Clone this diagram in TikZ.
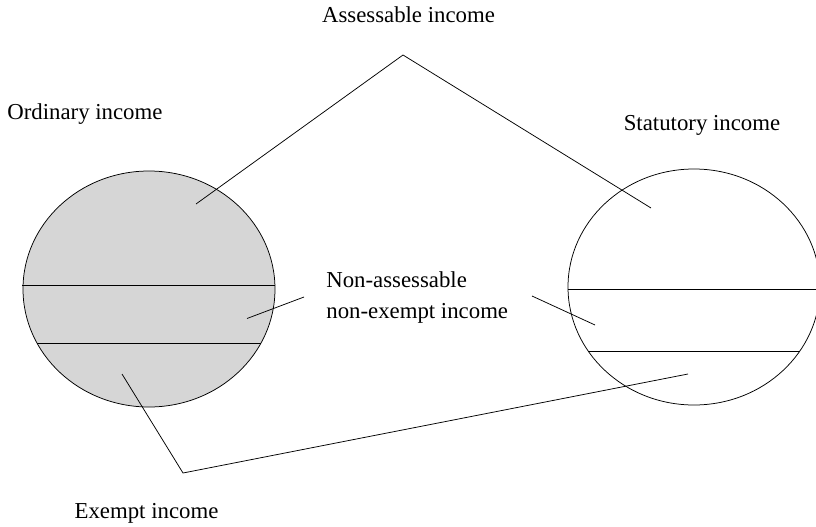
\documentclass[tikz,border=0pt]{standalone}
\usepackage{fontspec}
\setmainfont{Liberation Serif}
\definecolor{ringgray}{RGB}{214,214,214}
\begin{document}
\begin{tikzpicture}[x=1pt,y=-1pt,line width=0.75pt,
  lbl/.style={font=\fontsize{22.8}{27}\selectfont,inner sep=0pt},
  conn/.style={draw=black,line width=0.75pt}]
\useasboundingbox (0,0) rectangle (816,527);
% left circle (ordinary income)
\fill[ringgray] (149,289) ellipse [x radius=126, y radius=118];
\draw (149,289) ellipse [x radius=126, y radius=118];
\coordinate (l1a) at (22,285); \coordinate (l1b) at (275,285);
\coordinate (l2a) at (37,343); \coordinate (l2b) at (261,343);
\draw (l1a) -- (l1b);
\draw (l2a) -- (l2b);
% right circle (statutory income)
\draw (694,287) ellipse [x radius=126, y radius=118];
\coordinate (r1a) at (568,289); \coordinate (r1b) at (816,289);
\coordinate (r2a) at (588,351); \coordinate (r2b) at (800,351);
\draw (r1a) -- (r1b);
\draw (r2a) -- (r2b);
% labels
\node[lbl,anchor=base] (ass) at (408.5,23) {Assessable income};
\node[lbl,anchor=base west] (ord) at (7,119) {Ordinary income};
\node[lbl,anchor=base] (stat) at (702,130) {Statutory income};
\node[lbl,anchor=base west] (nonass1) at (326,287) {Non-assessable};
\node[lbl,anchor=base west] (nonass2) at (326,318) {non-exempt income};
\node[lbl,anchor=base] (ex) at (146.5,518) {Exempt income};
% connector points
\coordinate (apex) at (403,55);
\coordinate (assL) at (196,204);
\coordinate (assR) at (651,208);
\coordinate (naL0) at (304,297);
\coordinate (naL) at (247,318.5);
\coordinate (naR0) at (532,296);
\coordinate (naR) at (595,325);
\coordinate (exV) at (183,473);
\coordinate (exL) at (122,374);
\coordinate (exR) at (688,374);
\draw[conn] (assL) -- (apex) -- (assR);
\draw[conn] (naL0) -- (naL);
\draw[conn] (naR0) -- (naR);
\draw[conn] (exL) -- (exV) -- (exR);
\end{tikzpicture}
\end{document}
